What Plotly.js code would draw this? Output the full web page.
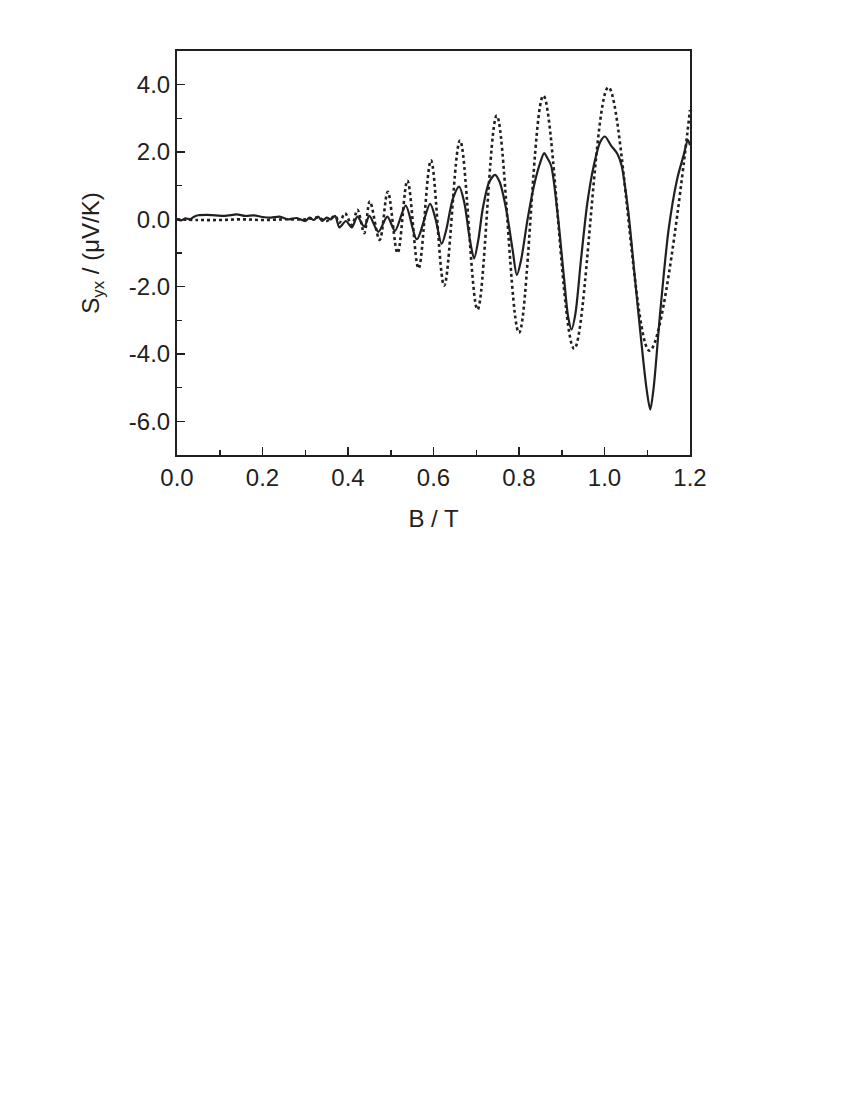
<!DOCTYPE html>
<html>
<head>
<meta charset="utf-8">
<script src="https://cdn.plot.ly/plotly-3.0.1.min.js"></script>
<style>html,body{margin:0;padding:0;background:#fff;}</style>
</head>
<body>
<div id="chart" style="width:850px;height:1100px;"></div>
<script>
// Solid curve (B in T, Syx in µV/K)
const solidB = [0.0,0.01,0.02,0.03,0.04,0.05,0.07,0.09,0.11,0.13,0.14,0.16,0.18,0.2,0.22,0.24,0.26,0.28,0.3,0.31,0.32,0.33,0.34,0.35,0.36,0.37,0.38,0.395,0.409,0.422,0.438,0.45,0.471,0.492,0.51,0.535,0.561,0.592,0.605,0.619,0.63,0.645,0.66,0.672,0.685,0.695,0.705,0.715,0.73,0.744,0.755,0.77,0.785,0.795,0.805,0.82,0.835,0.85,0.859,0.865,0.875,0.89,0.905,0.915,0.923,0.932,0.945,0.96,0.975,0.99,1.001,1.015,1.03,1.04,1.055,1.07,1.085,1.098,1.107,1.115,1.13,1.15,1.17,1.185,1.195,1.2];
const solidS = [0.0,-0.03,0.03,0.0,0.08,0.12,0.13,0.12,0.1,0.13,0.15,0.1,0.12,0.07,0.05,0.08,0.0,0.04,-0.05,0.05,-0.02,0.08,-0.05,0.05,0.0,0.1,-0.24,-0.05,-0.24,0.08,-0.22,0.1,-0.37,0.08,-0.34,0.41,-0.59,0.46,0.0,-0.73,-0.3,0.6,0.97,0.5,-0.6,-1.16,-0.6,0.3,1.1,1.32,1.1,0.3,-0.9,-1.65,-1.2,0.0,1.0,1.7,1.97,1.85,1.6,0.2,-1.7,-2.9,-3.27,-2.8,-1.2,0.5,1.6,2.3,2.46,2.2,1.95,1.6,0.3,-1.6,-3.5,-5.0,-5.65,-5.0,-2.8,-0.3,1.2,1.9,2.36,2.2];

// Dotted curve
const dotB = [0.0,0.05,0.1,0.15,0.2,0.25,0.3,0.33,0.35,0.37,0.38,0.393,0.409,0.422,0.438,0.451,0.474,0.493,0.516,0.539,0.565,0.594,0.625,0.662,0.703,0.748,0.80,0.857,0.929,1.009,1.105,1.2];
const dotS = [0.0,-0.02,-0.02,0.0,-0.02,0.0,0.0,0.05,-0.05,0.1,-0.1,0.18,-0.17,0.28,-0.41,0.53,-0.61,0.82,-1.0,1.15,-1.46,1.75,-1.97,2.34,-2.68,3.08,-3.37,3.67,-3.84,3.92,-3.9,3.25];

const xTickVals = [0,0.2,0.4,0.6,0.8,1.0,1.2];
const xTickText = ['0.0','0.2','0.4','0.6','0.8','1.0','1.2'];
const yTickVals = [4,2,0,-2,-4,-6];
const yTickText = ['4.0','2.0','0.0','-2.0','-4.0','-6.0'];

const font = {family:'Liberation Sans, Arial, sans-serif', size:24, color:'#231f20'};

Plotly.newPlot('chart', [
  {x: dotB, y: dotS, mode:'lines', line:{color:'#231f20', width:2.6, dash:'dot', shape:'spline', smoothing:1}, hoverinfo:'skip'},
  {x: solidB, y: solidS, mode:'lines', line:{color:'#231f20', width:2.2, shape:'spline', smoothing:0.8}, hoverinfo:'skip'}
], {
  width:850, height:1100,
  paper_bgcolor:'#fff', plot_bgcolor:'#fff',
  showlegend:false,
  margin:{l:177, r:160, t:51, b:645},
  font: font,
  xaxis:{range:[0,1.2], tickvals:xTickVals, ticktext:xTickText, ticks:'inside', ticklen:8, tickwidth:1.5, tickcolor:'#231f20',
    minor:{ticks:'inside', dtick:0.1, tick0:0, ticklen:5, tickwidth:1.5, tickcolor:'#231f20'},
    showline:true, linewidth:2, linecolor:'#231f20', mirror:true, showgrid:false, zeroline:false,
    title:{text:'B / T', font:font, standoff:20}},
  yaxis:{range:[-7,5], tickvals:yTickVals, ticktext:yTickText, ticks:'inside', ticklen:8, tickwidth:1.5, tickcolor:'#231f20',
    minor:{ticks:'inside', dtick:1, tick0:0, ticklen:5, tickwidth:1.5, tickcolor:'#231f20'},
    showline:true, linewidth:2, linecolor:'#231f20', mirror:true, showgrid:false, zeroline:false,
    title:{text:'S<sub style="font-size:14px">yx</sub> / (\u03bcV/K)', font:font, standoff:22}}
}, {staticPlot:true});
</script>
</body>
</html>
